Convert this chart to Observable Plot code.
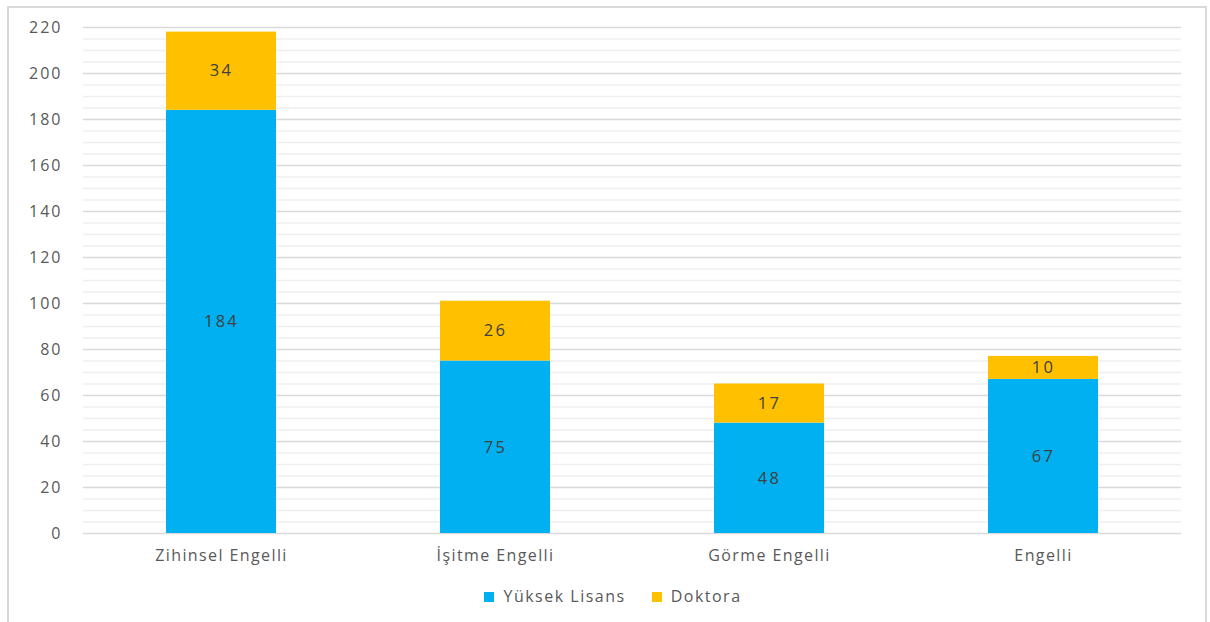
<!DOCTYPE html>
<html>
<head>
<meta charset="utf-8">
<script src="https://cdn.jsdelivr.net/npm/d3@7"></script>
<script src="https://cdn.jsdelivr.net/npm/@observablehq/plot@0.6"></script>
<style>
  body { margin: 0; background: #fff; }
  #wrap { position: relative; width: 1210px; height: 622px; overflow: hidden; font-family: "Open Sans", sans-serif; }
  #frame { position: absolute; left: 7px; top: 6px; width: 1200px; height: 640px; border: 2px solid #d9d9d9; box-sizing: border-box; }
  #chart { position: absolute; left: 0; top: 0; }
  #legend { position: absolute; left: 0; top: 585px; width: 1226px; display: flex; justify-content: center; gap: 26px; font-size: 16px; color: #595959; letter-spacing: 1.5px; }
  #legend span.sw { display: inline-block; width: 10px; height: 10px; margin-right: 9px; vertical-align: 0px; }
</style>
</head>
<body>
<div id="wrap">
  <div id="frame"></div>
  <div id="chart"></div>
  <div id="legend"></div>
</div>
<script>
const categories = ["Zihinsel Engelli", "İşitme Engelli", "Görme Engelli", "Engelli"];
const seriesNames = ["Yüksek Lisans", "Doktora"];
const yuksekLisans = [184, 75, 48, 67];
const doktora = [34, 26, 17, 10];
const colors = ["#00B0F0", "#FFC000"];
const yTicks = [0, 20, 40, 60, 80, 100, 120, 140, 160, 180, 200, 220];
const yMinorTicks = d3.range(0, 221, 5).filter(v => v % 20 !== 0);

const data = [];
categories.forEach((c, i) => {
  data.push({cat: c, series: seriesNames[0], value: yuksekLisans[i]});
  data.push({cat: c, series: seriesNames[1], value: doktora[i]});
});

const chart = Plot.plot({
  width: 1210,
  height: 575,
  marginLeft: 83,
  marginRight: 29,
  marginTop: 27,
  marginBottom: 42,
  style: {fontFamily: "Open Sans, sans-serif", fontSize: "16px", color: "#595959", background: "transparent"},
  x: {domain: categories, paddingInner: 0.6, paddingOuter: 0.3, label: null, tickSize: 0, tickPadding: 16},
  y: {domain: [0, 220], ticks: yTicks, label: null, tickSize: 0, tickPadding: 21},
  color: {domain: seriesNames, range: colors},
  marks: [
    Plot.ruleY(yMinorTicks, {stroke: "#efefef", strokeWidth: 1.5}),
    Plot.ruleY(yTicks, {stroke: "#d9d9d9", strokeWidth: 1.5}),
    Plot.barY(data, {x: "cat", y: "value", fill: "series"}),
    Plot.text(data, Plot.stackY({x: "cat", y: "value", z: "series", text: d => String(d.value), fill: "#404040", fontSize: 16.5}))
  ]
});
chart.querySelectorAll("[aria-label='x-axis tick label'] text").forEach(t => t.setAttribute("letter-spacing", "1.4"));
chart.querySelectorAll("[aria-label='y-axis tick label'] text").forEach(t => t.setAttribute("letter-spacing", "2"));
chart.querySelectorAll("[aria-label='text'] text").forEach(t => t.setAttribute("letter-spacing", "2.2"));
document.getElementById("chart").appendChild(chart);

const legend = document.getElementById("legend");
seriesNames.forEach((s, i) => {
  const item = document.createElement("div");
  item.innerHTML = `<span class="sw" style="background:${colors[i]}"></span>${s}`;
  legend.appendChild(item);
});
</script>
</body>
</html>
